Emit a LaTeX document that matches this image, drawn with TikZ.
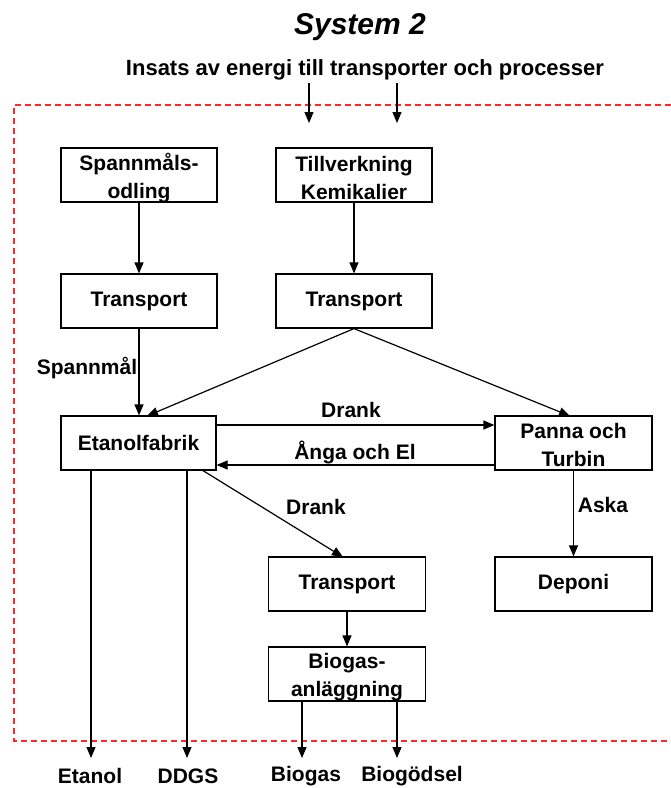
\documentclass[tikz,border=0pt]{standalone}
\usepackage{fontspec}
\setmainfont{Liberation Sans}
\usetikzlibrary{arrows.meta}
\begin{document}
\begin{tikzpicture}[x=1pt,y=-1pt,
  font=\fontsize{21}{27}\selectfont\bfseries,
  box/.style={draw, line width=1.2pt, minimum width=156pt, minimum height=54pt, inner sep=0pt, align=center},
  lbl/.style={inner sep=0pt},
  twol/.style={inner sep=0pt, align=center, font=\fontsize{21}{27.5}\selectfont\bfseries},
  flow/.style={line width=1.2pt, -{Triangle[length=11pt,width=9pt]}},
  sysline/.style={draw=red!85, line width=1.2pt, dash pattern=on 6pt off 4pt}]
\useasboundingbox (0,0) rectangle (671,788);
% title
\node[lbl, font=\fontsize{30}{33}\selectfont\bfseries\itshape] (title) at (360,27) {System 2};
\node[lbl, font=\fontsize{22}{26}\selectfont\bfseries] (insats) at (365,70) {Insats av energi till transporter och processer};
% system boundary
\draw[sysline] (671,105) -- (14,105) -- (14,741) -- (671,741);
% boxes
\node[box] (spann) at (139,175) {};
\node[twol] (spanntxt) at (139,178) {Spannmåls-\\odling};
\node[box] (till) at (354,175) {};
\node[twol] (tilltxt) at (354,178) {Tillverkning\\Kemikalier};
\node[box] (trL) at (139,301) {Transport};
\node[box] (trR) at (354,301) {Transport};
\node[box, minimum width=155pt] (etan) at (138.5,443) {Etanolfabrik};
\node[box, minimum width=157pt] (panna) at (573.5,443) {};
\node[twol] (pannatxt) at (573.5,445) {Panna och\\Turbin};
\node[box, minimum width=157pt] (trB) at (347,584) {Transport};
\node[box, minimum width=157pt] (depo) at (573.5,584) {Deponi};
\node[box, minimum width=157pt] (bio) at (347,674) {};
\node[twol] (biotxt) at (347,677) {Biogas-\\anläggning};
% energy inputs
\coordinate (e1s) at (309,83); \coordinate (e1t) at (309,123);
\coordinate (e2s) at (397,83); \coordinate (e2t) at (397,123);
\draw[flow] (e1s) -- (e1t);
\draw[flow] (e2s) -- (e2t);
% flows
\draw[flow] (spann) -- (trL);
\draw[flow] (till) -- (trR);
\draw[flow] (trL) -- (etan.north -| trL);
\coordinate (etanin) at (147,416);
\coordinate (pannain) at (570,416);
\draw[flow] (trR.south) -- (etanin);
\draw[flow] (trR.south) -- (pannain);
\node[lbl] (spannlbl) at (87,368) {Spannmål};
\draw[flow] ([yshift=18pt]etan.east) -- ([yshift=18pt]panna.west);
\node[lbl] (dranklbl) at (351,410) {Drank};
\draw[flow] ([yshift=-22pt]panna.west) -- ([yshift=-22pt]etan.east);
\node[lbl] (angalbl) at (355,452) {Ånga och El};
\draw[flow] (panna.south) -- (depo.north);
\node[lbl] (askalbl) at (603,505) {Aska};
\coordinate (drs) at (202,470);
\coordinate (drt) at (343,557);
\draw[flow] (drs) -- (drt);
\node[lbl] (drank2lbl) at (316,507) {Drank};
\draw[flow] (trB) -- (bio);
% outputs
\coordinate (oEt) at (91,758);
\coordinate (oDD) at (187,758);
\coordinate (oBg) at (302,758);
\coordinate (oBd) at (397,758);
\draw[flow] (etan.south -| oEt) -- (oEt);
\draw[flow] (etan.south -| oDD) -- (oDD);
\draw[flow] (bio.south -| oBg) -- (oBg);
\draw[flow] (bio.south -| oBd) -- (oBd);
\node[lbl] (etanol) at (90,776) {Etanol};
\node[lbl] (ddgs) at (188,776) {DDGS};
\node[lbl] (biogas) at (306,776) {Biogas};
\node[lbl] (biogod) at (412,776) {Biogödsel};
\end{tikzpicture}
\end{document}
